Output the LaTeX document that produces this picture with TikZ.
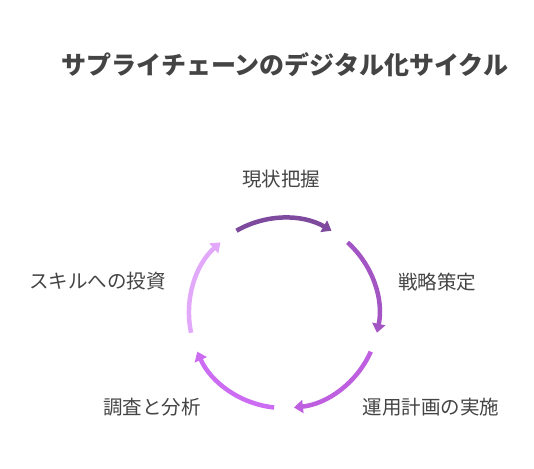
\documentclass[tikz,border=0pt]{standalone}
\usepackage{fontspec}
\setmainfont{Noto Sans CJK JP}
\usetikzlibrary{arrows.meta}
\definecolor{textgray}{HTML}{444444}
\definecolor{phaseA}{HTML}{7E4A9E}
\definecolor{phaseB}{HTML}{A355C4}
\definecolor{phaseC}{HTML}{BE5FE0}
\definecolor{phaseD}{HTML}{CB6CF2}
\definecolor{phaseE}{HTML}{E2A8FA}
\def\cyclearc[#1](#2:#3){\draw[#1] (hub) ++(#2:95) arc[start angle=#2, end angle=#3, radius=95];}
\tikzset{
  phasearc/.style={line width=4.5pt, -{Triangle[length=9pt,width=13pt]}},
  phaselabel/.style={text=textgray, font=\fontsize{19.5}{23}\selectfont},
}

\begin{document}
\begin{tikzpicture}[x=1pt, y=1pt]
			%%%%% START %%%%%
			\useasboundingbox (0, 0) rectangle (534, 468);
			
			\node[text=textgray, font=\bfseries\fontsize{25}{29}\selectfont] (title) at (284.5, 403) {サプライチェーンのデジタル化サイクル};
			
			\coordinate (hub) at (284, 155);
			
			\cyclearc[phasearc, color=phaseA](120:60);
			\cyclearc[phasearc, color=phaseB](48:-12);
			\cyclearc[phasearc, color=phaseC](-24:-84);
			\cyclearc[phasearc, color=phaseD](-96:-156);
			\cyclearc[phasearc, color=phaseE](-168:-228);
			
			\node[phaselabel] (survey) at (281, 289) {現状把握};
			\node[phaselabel] (strategy) at (437, 186) {戦略策定};
			\node[phaselabel] (rollout) at (431, 61) {運用計画の実施};
			\node[phaselabel] (research) at (152, 61) {調査と分析};
			\node[phaselabel] (skills) at (97.5, 187) {スキルへの投資};
			
			%%%%% END %%%%%
\end{tikzpicture}
\end{document}
